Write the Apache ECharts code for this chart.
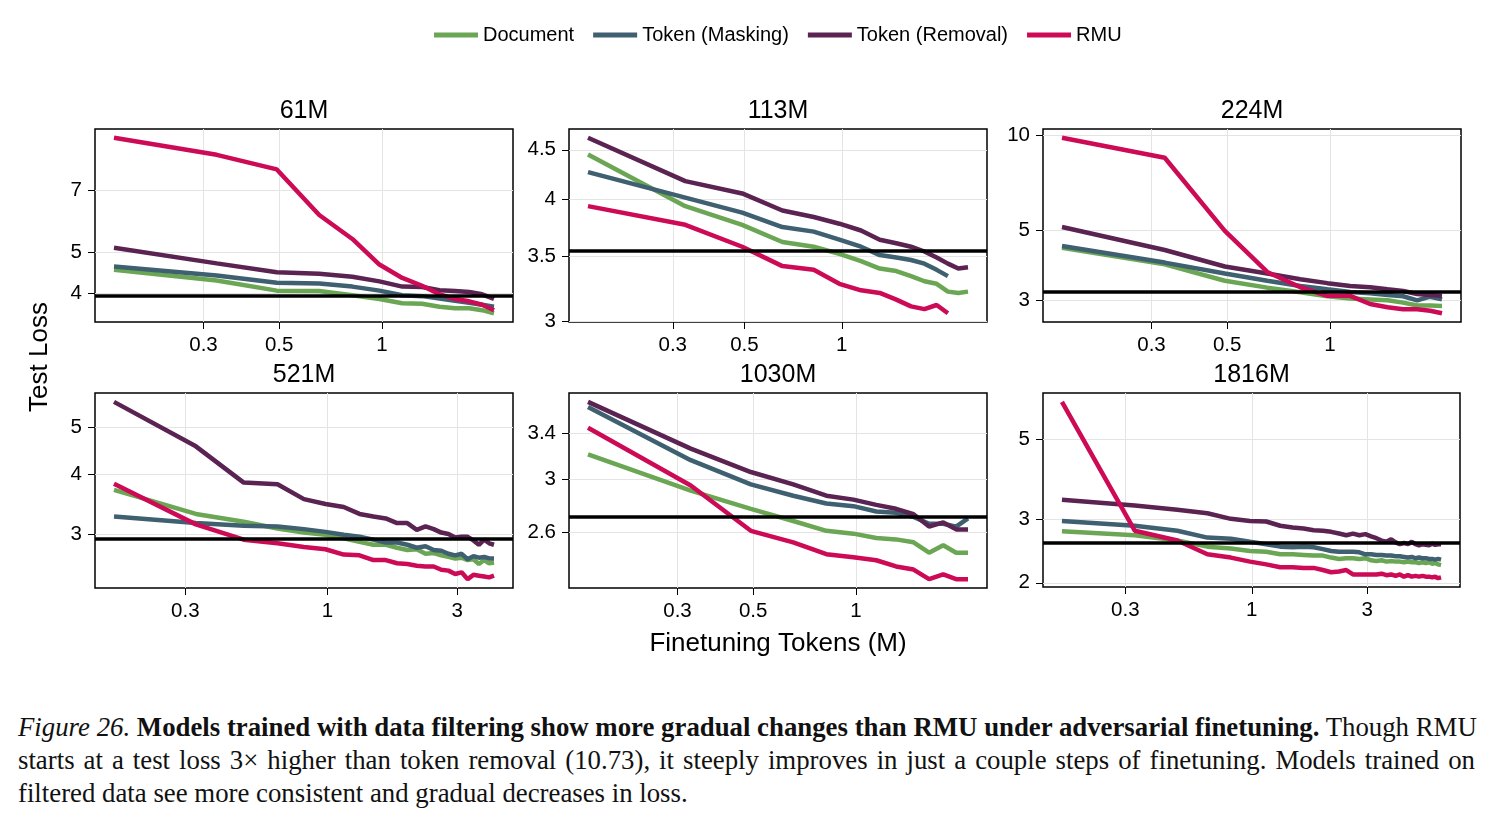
<!DOCTYPE html>
<html>
<head>
<meta charset="utf-8">
<script src="https://cdn.jsdelivr.net/npm/echarts@6/dist/echarts.min.js"></script>
<style>
  body { margin: 0; background: #fff; }
  #chart { position: absolute; left: 0; top: 0; width: 1491px; height: 690px; }
  #caption { position: absolute; left: 18px; top: 711px; width: 1457px;
    font-family: 'Liberation Serif', 'Times New Roman', serif; font-size: 26.8px;
    line-height: 33px; color: #111; }
  #caption div { text-align: justify; text-align-last: justify; white-space: nowrap; }
  #caption div.last { text-align: left; text-align-last: left; }
</style>
</head>
<body>
<div id="chart"></div>
<div id="caption">
  <div><i>Figure 26.</i> <b>Models trained with data filtering show more gradual changes than RMU under adversarial finetuning.</b> Though RMU</div>
  <div>starts at a test loss 3&times; higher than token removal (10.73), it steeply improves in just a couple steps of finetuning. Models trained on</div>
  <div class="last">filtered data see more consistent and gradual decreases in loss.</div>
</div>
<script>
// finetuning tokens (M) at each logged step
var tokens = [0.164, 0.328, 0.492, 0.655, 0.819, 0.983, 1.147, 1.311, 1.475, 1.638,
  1.802, 1.966, 2.130, 2.294, 2.458, 2.621, 2.785, 2.949, 3.113, 3.277,
  3.441, 3.604, 3.768, 3.932, 4.096, 4.260, 4.424, 4.588, 4.751, 4.915,
  5.079, 5.243, 5.407, 5.571, 5.734, 5.898, 6.062];

var sizes = ['61M', '113M', '224M', '521M', '1030M', '1816M'];
var methods = ['Document', 'Token (Masking)', 'Token (Removal)', 'RMU'];

// 61M
var doc61 = [4.54, 4.28, 4.05, 4.04, 3.95, 3.87, 3.78, 3.77, 3.71, 3.68, 3.68, 3.64, 3.58];
var mask61 = [4.62, 4.40, 4.23, 4.21, 4.14, 4.05, 3.95, 3.93, 3.88, 3.83, 3.79, 3.75, 3.71];
var rem61 = [5.12, 4.70, 4.48, 4.44, 4.37, 4.26, 4.14, 4.13, 4.06, 4.04, 4.02, 3.97, 3.87];
var rmu61 = [9.33, 8.50, 7.85, 6.12, 5.37, 4.67, 4.34, 4.16, 3.97, 3.87, 3.82, 3.75, 3.64];
// 113M
var doc113 = [4.45, 3.94, 3.77, 3.62, 3.58, 3.52, 3.46, 3.40, 3.38, 3.34, 3.30, 3.28, 3.22, 3.21, 3.22];
var mask113 = [4.27, 4.02, 3.88, 3.75, 3.71, 3.64, 3.58, 3.51, 3.49, 3.47, 3.44, 3.39, 3.34];
var rem113 = [4.63, 4.18, 4.06, 3.90, 3.84, 3.78, 3.72, 3.64, 3.61, 3.58, 3.54, 3.49, 3.44, 3.40, 3.41];
var rmu113 = [3.94, 3.77, 3.58, 3.42, 3.39, 3.28, 3.23, 3.21, 3.16, 3.11, 3.09, 3.12, 3.06];
// 224M
var doc224 = [4.40, 3.90, 3.46, 3.29, 3.18, 3.09, 3.04, 3.02, 3.00, 2.95, 2.89, 2.89, 2.88];
var mask224 = [4.46, 3.95, 3.65, 3.46, 3.33, 3.25, 3.19, 3.16, 3.12, 3.09, 3.00, 3.08, 3.02];
var rem224 = [5.12, 4.33, 3.84, 3.65, 3.50, 3.40, 3.33, 3.30, 3.25, 3.21, 3.14, 3.12, 3.10];
var rmu224 = [9.82, 8.49, 4.98, 3.69, 3.30, 3.10, 3.10, 2.92, 2.85, 2.81, 2.81, 2.78, 2.73];
// 521M
var doc521 = [3.71, 3.31, 3.19, 3.09, 3.03, 3.00, 2.95, 2.90, 2.86, 2.86, 2.82, 2.79, 2.80,
  2.74, 2.75, 2.72, 2.70, 2.68, 2.69, 2.66, 2.67, 2.61, 2.66, 2.62, 2.63];
var mask521 = [3.27, 3.17, 3.13, 3.12, 3.08, 3.04, 3.00, 2.97, 2.93, 2.89, 2.89, 2.86, 2.82,
  2.84, 2.79, 2.78, 2.74, 2.72, 2.74, 2.67, 2.71, 2.69, 2.70, 2.68, 2.68];
var rem521 = [5.63, 4.56, 3.84, 3.81, 3.55, 3.47, 3.42, 3.31, 3.27, 3.24, 3.17, 3.17, 3.07,
  3.12, 3.08, 3.03, 3.01, 2.96, 2.97, 2.97, 2.92, 2.86, 2.93, 2.88, 2.86];
var rmu521 = [3.82, 3.15, 2.93, 2.88, 2.83, 2.80, 2.73, 2.72, 2.66, 2.66, 2.62, 2.61, 2.59,
  2.58, 2.58, 2.54, 2.53, 2.49, 2.51, 2.43, 2.48, 2.47, 2.46, 2.45, 2.47];
// 1030M
var doc1030 = [3.21, 2.91, 2.77, 2.68, 2.61, 2.59, 2.56, 2.55, 2.53, 2.46, 2.51, 2.46, 2.46];
var mask1030 = [3.65, 3.16, 2.96, 2.87, 2.81, 2.79, 2.75, 2.74, 2.71, 2.66, 2.66, 2.64, 2.70];
var rem1030 = [3.70, 3.26, 3.06, 2.96, 2.87, 2.84, 2.80, 2.77, 2.73, 2.64, 2.67, 2.62, 2.62];
var rmu1030 = [3.45, 2.95, 2.61, 2.53, 2.45, 2.43, 2.41, 2.37, 2.35, 2.29, 2.32, 2.29, 2.29];
// 1816M
var doc1816 = [2.78, 2.71, 2.62, 2.52, 2.49, 2.45, 2.44, 2.40, 2.40, 2.39, 2.38, 2.38, 2.35,
  2.33, 2.34, 2.34, 2.33, 2.34, 2.31, 2.30, 2.31, 2.29, 2.30, 2.29, 2.29, 2.28, 2.29,
  2.28, 2.28, 2.27, 2.28, 2.27, 2.28, 2.26, 2.27, 2.25, 2.24];
var mask1816 = [2.97, 2.88, 2.79, 2.67, 2.65, 2.60, 2.56, 2.52, 2.51, 2.52, 2.51, 2.48, 2.45,
  2.44, 2.44, 2.44, 2.43, 2.40, 2.40, 2.39, 2.39, 2.38, 2.38, 2.37, 2.37, 2.36, 2.35,
  2.36, 2.34, 2.35, 2.34, 2.34, 2.33, 2.33, 2.32, 2.33, 2.32];
var rem1816 = [3.40, 3.28, 3.19, 3.12, 3.01, 2.97, 2.96, 2.88, 2.85, 2.83, 2.80, 2.79, 2.77,
  2.74, 2.71, 2.74, 2.71, 2.73, 2.69, 2.66, 2.62, 2.60, 2.64, 2.59, 2.56, 2.58, 2.56,
  2.60, 2.56, 2.54, 2.56, 2.55, 2.54, 2.57, 2.55, 2.56, 2.56];
var rmu1816 = [6.36, 2.79, 2.62, 2.40, 2.35, 2.29, 2.25, 2.21, 2.21, 2.20, 2.20, 2.17, 2.14,
  2.15, 2.17, 2.11, 2.11, 2.11, 2.11, 2.11, 2.12, 2.10, 2.11, 2.09, 2.11, 2.08, 2.10,
  2.08, 2.09, 2.08, 2.09, 2.08, 2.08, 2.07, 2.08, 2.06, 2.07];

// black reference line per model
var baseline = [3.94, 3.55, 3.20, 2.94, 2.71, 2.58];
var yTicks = [[4, 5, 7], [3, 3.5, 4, 4.5], [3, 5, 10], [3, 4, 5], [2.6, 3, 3.4], [2, 3, 5]];
var xTicks = [[0.3, 0.5, 1], [0.3, 0.5, 1], [0.3, 0.5, 1], [0.3, 1, 3], [0.3, 0.5, 1], [0.3, 1, 3]];

var panels = [
  [doc61, mask61, rem61, rmu61],
  [doc113, mask113, rem113, rmu113],
  [doc224, mask224, rem224, rmu224],
  [doc521, mask521, rem521, rmu521],
  [doc1030, mask1030, rem1030, rmu1030],
  [doc1816, mask1816, rem1816, rmu1816]
];

(function() {
  var font = "'Liberation Sans', Arial, sans-serif";
  var colors = ['#6aa654', '#3e6070', '#5a2352', '#cd0a55'];
  var boxes = [
    [95, 129, 418, 193], [569, 129, 418, 193], [1043, 129, 418, 193],
    [95, 393, 418, 195], [569, 393, 418, 195], [1043, 393, 417, 194]
  ];

  function fmt(v) { return String(+(+v).toPrecision(4)); }
  // 5% padding on each side in log space
  function padRange(vals) {
    var lo = Math.log10(Math.min.apply(null, vals));
    var hi = Math.log10(Math.max.apply(null, vals));
    var p = (hi - lo) * 0.05;
    return [Math.pow(10, lo - p), Math.pow(10, hi + p)];
  }

  var grids = [], xAxes = [], yAxes = [], titles = [], series = [];
  panels.forEach(function(set, i) {
    var b = boxes[i];
    grids.push({ left: b[0], top: b[1], width: b[2], height: b[3], show: true,
      borderColor: '#000', borderWidth: 1.5, containLabel: false, outerBoundsMode: 'none' });
    titles.push({ text: sizes[i], left: b[0] + b[2] / 2, top: b[1] - 30, textAlign: 'center', padding: 0,
      textStyle: { fontSize: 25, fontWeight: 'normal', color: '#000', fontFamily: font } });

    var allX = [], allY = [];
    set.forEach(function(ys) {
      allY = allY.concat(ys);
      allX = allX.concat(tokens.slice(0, ys.length));
    });
    var xr = padRange(allX), yr = padRange(allY);

    xAxes.push({ type: 'log', logBase: 10, gridIndex: i, min: xr[0], max: xr[1],
      axisLine: { show: false },
      axisTick: { show: true, inside: false, length: 7, customValues: xTicks[i],
        lineStyle: { color: '#000', width: 1 } },
      axisLabel: { customValues: xTicks[i], formatter: fmt, margin: 13, fontSize: 20.5,
        color: '#000', fontFamily: font },
      splitLine: { show: true, lineStyle: { color: '#e4e4e4', width: 1 } },
      minorTick: { show: false }, minorSplitLine: { show: false } });
    yAxes.push({ type: 'log', logBase: 10, gridIndex: i, min: yr[0], max: yr[1],
      axisLine: { show: false },
      axisTick: { show: true, inside: false, length: 7, customValues: yTicks[i],
        lineStyle: { color: '#000', width: 1 } },
      axisLabel: { customValues: yTicks[i], formatter: fmt, margin: 13, fontSize: 20.5,
        color: '#000', fontFamily: font },
      splitLine: { show: true, lineStyle: { color: '#e4e4e4', width: 1 } },
      minorTick: { show: false }, minorSplitLine: { show: false } });

    set.forEach(function(ys, m) {
      var s = {
        name: methods[m], type: 'line', xAxisIndex: i, yAxisIndex: i,
        data: ys.map(function(v, j) { return [tokens[j], v]; }),
        showSymbol: false, symbol: 'none', z: 2 + m,
        lineStyle: { color: colors[m], width: 4.5 },
        itemStyle: { color: colors[m] }
      };
      if (m === 3) {
        s.markLine = { silent: true, symbol: 'none', z: 10, animation: false,
          label: { show: false },
          lineStyle: { color: '#000', width: 3.5, type: 'solid' },
          data: [{ yAxis: baseline[i] }] };
      }
      series.push(s);
    });
  });

  var chart = echarts.init(document.getElementById('chart'), null, { renderer: 'canvas' });
  chart.setOption({
    animation: false,
    textStyle: { fontFamily: font },
    color: colors,
    title: titles,
    legend: { data: methods, top: 25, left: 434, padding: 0, icon: 'rect', itemWidth: 44, itemHeight: 5,
      itemGap: 19, textStyle: { fontSize: 20, color: '#000', fontFamily: font } },
    grid: grids, xAxis: xAxes, yAxis: yAxes, series: series,
    graphic: [
      { type: 'text', x: 40, y: 357, rotation: Math.PI / 2,
        style: { text: 'Test Loss', fontSize: 26, fontFamily: font, fill: '#000',
          align: 'center', verticalAlign: 'middle', textAlign: 'center', textVerticalAlign: 'middle' } },
      { type: 'text', x: 778, y: 644,
        style: { text: 'Finetuning Tokens (M)', fontSize: 26, fontFamily: font, fill: '#000',
          align: 'center', verticalAlign: 'middle', textAlign: 'center', textVerticalAlign: 'middle' } }
    ]
  });
})();
</script>
</body>
</html>
